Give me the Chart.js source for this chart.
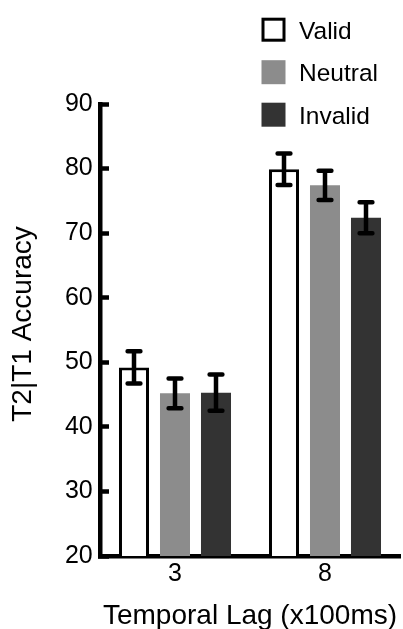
<!DOCTYPE html>
<html>
<head>
<meta charset="utf-8">
<script src="https://cdn.jsdelivr.net/npm/chart.js@4/dist/chart.umd.min.js"></script>
<style>
html,body{margin:0;padding:0;background:#fff;}
#wrap{width:403px;height:629px;position:relative;}
canvas{display:block;}
</style>
</head>
<body>
<div id="wrap"><canvas id="c" width="403" height="629"></canvas></div>
<script>
// ---- data ----
const categories = ['3', '8'];
const seriesLabels = ['Valid', 'Neutral', 'Invalid'];
const validValues = [49.2, 79.9];
const neutralValues = [45.2, 77.4];
const invalidValues = [45.3, 72.4];
const validErrors = [2.5, 2.45];
const neutralErrors = [2.3, 2.25];
const invalidErrors = [2.8, 2.4];
const yMin = 20, yMax = 90, yStep = 10;
const xTitle = 'Temporal Lag (x100ms)';
const yTitle = 'T2|T1 Accuracy';

const FONT = "'Liberation Sans', Arial, Helvetica, sans-serif";
Chart.defaults.font.family = FONT;
Chart.defaults.color = '#000';

const errorBars = {
  id: 'errorBars',
  afterDatasetsDraw(chart) {
    const ctx = chart.ctx;
    const y = chart.scales.y;
    ctx.save();
    ctx.strokeStyle = '#000';
    ctx.lineWidth = 4.5;
    ctx.lineCap = 'round';
    chart.data.datasets.forEach((ds, i) => {
      const meta = chart.getDatasetMeta(i);
      meta.data.forEach((bar, j) => {
        const v = ds.data[j], e = ds.errors[j];
        const yt = y.getPixelForValue(v + e);
        const yb = y.getPixelForValue(v - e);
        const x = bar.x, hw = 6.4;
        ctx.beginPath();
        ctx.moveTo(x, yt); ctx.lineTo(x, yb);
        ctx.moveTo(x - hw, yt); ctx.lineTo(x + hw, yt);
        ctx.moveTo(x - hw, yb); ctx.lineTo(x + hw, yb);
        ctx.stroke();
      });
    });
    ctx.restore();
  }
};

const customLegend = {
  id: 'customLegend',
  afterDraw(chart) {
    const ctx = chart.ctx;
    ctx.save();
    ctx.font = '24.5px ' + FONT;
    ctx.textAlign = 'left';
    ctx.textBaseline = 'alphabetic';
    chart.data.datasets.forEach((ds, i) => {
      const base = 38.5 + 42.5 * i;
      const cy = base - 8.8;
      const size = 24, bx = 261.5, by = cy - size / 2;
      ctx.fillStyle = ds.backgroundColor;
      ctx.fillRect(bx, by, size, size);
      if (ds.borderWidth) {
        ctx.strokeStyle = ds.borderColor;
        ctx.lineWidth = 3;
        ctx.strokeRect(bx + 1.5, by + 1.5, size - 3, size - 3);
      }
      ctx.fillStyle = '#000';
      ctx.fillText(ds.label, 299, base);
    });
    // y axis title
    ctx.translate(23.5, 324);
    ctx.rotate(-Math.PI / 2);
    ctx.font = '28px ' + FONT;
    ctx.textAlign = 'center';
    ctx.textBaseline = 'middle';
    ctx.fillText(yTitle, 0, 0);
    ctx.restore();
  }
};

new Chart(document.getElementById('c'), {
  type: 'bar',
  data: {
    labels: categories,
    datasets: [
      { label: seriesLabels[0], data: validValues, errors: validErrors,
        backgroundColor: '#ffffff', borderColor: '#000000', borderWidth: 3 },
      { label: seriesLabels[1], data: neutralValues, errors: neutralErrors,
        backgroundColor: '#8c8c8c', borderWidth: 0 },
      { label: seriesLabels[2], data: invalidValues, errors: invalidErrors,
        backgroundColor: '#333333', borderWidth: 0 }
    ]
  },
  options: {
    responsive: false,
    animation: false,
    devicePixelRatio: 1,
    categoryPercentage: 0.82,
    barPercentage: 0.732,
    layout: { padding: { top: 104, right: 3, left: 0, bottom: 0 } },
    plugins: { legend: { display: false }, tooltip: { enabled: false } },
    scales: {
      x: {
        grid: { display: false, drawTicks: false },
        border: { display: true, color: '#000', width: 4.5 },
        ticks: { font: { size: 25 }, color: '#000', padding: 3 },
        title: { display: true, text: xTitle, color: '#000',
                 font: { size: 28, lineHeight: 0.914 }, padding: { top: 0, bottom: 0 } },
        afterFit(s) { s.height = 73; }
      },
      y: {
        min: yMin, max: yMax,
        grid: { display: true, drawOnChartArea: false, drawTicks: true,
                tickLength: -9, tickWidth: 4.5, tickColor: '#000' },
        border: { display: true, color: '#000', width: 4.5 },
        ticks: { stepSize: yStep, font: { size: 25 }, color: '#000', padding: 16.3 },
        title: { display: false, text: yTitle },
        afterFit(s) { s.width = 100; }
      }
    }
  },
  plugins: [errorBars, customLegend]
});
</script>
</body>
</html>
